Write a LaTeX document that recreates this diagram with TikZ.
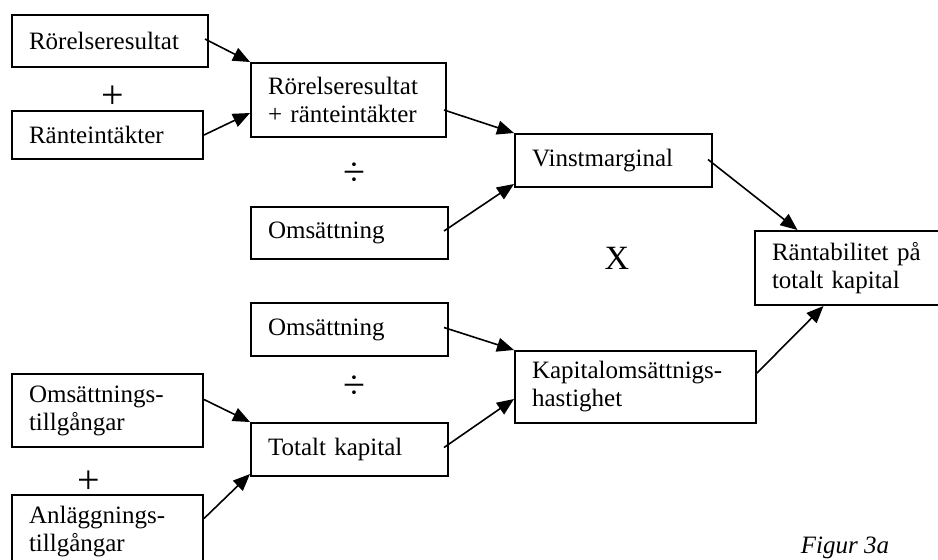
\documentclass[tikz,border=0pt]{standalone}
\usepackage{fontspec}
\setmainfont{Liberation Serif}
\usetikzlibrary{arrows.meta,calc}
\begin{document}
\begin{tikzpicture}[x=0.5pt,y=-0.5pt,
	box/.style={draw, line width=1pt, inner xsep=8.5pt, inner ysep=0pt, align=left, font=\fontsize{12.5}{14}\selectfont},
	pil/.style={line width=0.8pt, -{Triangle[length=8.5pt,width=7pt]}},
	op/.style={font=\fontsize{20}{20}\selectfont, inner sep=0pt}
	]
	\useasboundingbox (0,0) rectangle (938,559);

	% vinstmarginal
	\node[box, text width=81pt, minimum height=26pt] (rorelse) at (110,41) {Rörelseresultat};
	\node[box, text width=78.5pt, minimum height=24pt] (ranta) at (107.5,135) {Ränteintäkter};
	\node[op] (plus1) at (113,97) {+};
	\node[box, text width=80.5pt, minimum height=37pt] (summa) at (348.5,100) {Rörelseresultat\\+ ränteintäkter};
	\node[op] (div1) at (354,174) {÷};
	\node[box, text width=81.5pt, minimum height=26pt] (oms1) at (349.5,233) {Omsättning};
	\node[box, text width=81.5pt, minimum height=26.5pt] (vinst) at (613.5,160.5) {Vinstmarginal};

	\node[op, font=\fontsize{17}{17}\selectfont] (mult) at (617,258) {X};
	\node[box, text width=81.5pt, minimum height=37pt] (rtk) at (853.5,268) {Räntabilitet på\\totalt kapital};

	% kapitalomsättningshastighet
	\node[box, text width=81.5pt, minimum height=26.5pt] (oms2) at (349.5,329.5) {Omsättning};
	\node[op] (div2) at (354,387) {÷};
	\node[box, text width=78.5pt, minimum height=36.5pt] (omstg) at (107.5,410.5) {Omsättnings-\\tillgångar};
	\node[op] (plus2) at (89,482) {+};
	\node[box, text width=78.5pt, minimum height=36.5pt] (anltg) at (107.5,531.5) {Anläggnings-\\tillgångar};
	\node[box, text width=81.5pt, minimum height=26.5pt] (totkap) at (349.5,449.5) {Totalt kapital};
	\node[box, text width=103.5pt, minimum height=36pt] (kapoms) at (635.5,387) {Kapitalomsättnigs-\\hastighet};

	\node[font=\fontsize{12.5}{14}\selectfont\itshape, anchor=base] (figur) at (845,553) {Figur 3a};

	\draw[pil] ($(rorelse.east)+(-4,-2)$) -- (summa.north west);
	\draw[pil] (ranta.east) -- ($(summa.west)+(0,13)$);
	\draw[pil] ($(summa.east)+(-3,10)$) -- (vinst.north west);
	\draw[pil] ($(oms1.east)+(-5,-2)$) -- ($(vinst.south west)+(0,-4)$);
	\draw[pil] ($(vinst.east)+(-5,-1)$) -- ($(rtk.north)+(-56,0)$);

	\draw[pil] ($(oms2.east)+(-5,-2)$) -- (kapoms.north west);
	\draw[pil] ($(totkap.east)+(-5,-2)$) -- ($(kapoms.west)+(0,12)$);
	\draw[pil] ($(kapoms.east)+(0,-14)$) -- ($(rtk.south)+(-30,0)$);
	\draw[pil] ($(omstg.east)+(0,-11)$) -- (totkap.north west);
	\draw[pil] ($(anltg.east)+(0,-13)$) -- ($(totkap.south west)+(0,-3)$);
\end{tikzpicture}
\end{document}
